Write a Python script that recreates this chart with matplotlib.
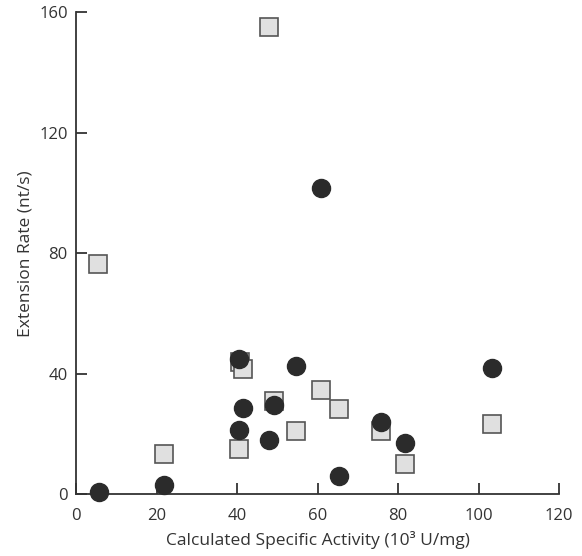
import matplotlib.pyplot as plt

# squares (light grey)
sq_x = [5.5, 21.9, 40.6, 40.7, 41.5, 48.0, 49.3, 54.6, 60.9, 65.4, 75.7, 81.8, 103.3]
sq_y = [76.4, 13.5, 15.0, 43.8, 41.5, 155.1, 31.0, 21.0, 34.6, 28.2, 21.0, 10.2, 23.4]

# circles (dark)
ci_x = [5.8, 21.9, 40.6, 41.4, 40.6, 47.9, 49.3, 54.6, 60.9, 65.4, 75.7, 81.8, 103.3]
ci_y = [0.7, 3.0, 44.9, 28.7, 21.5, 18.0, 29.8, 42.7, 101.6, 6.0, 24.1, 17.1, 42.0]

x_ticks = [0, 20, 40, 60, 80, 100, 120]
y_ticks = [0, 40, 80, 120, 160]

plt.rcParams['font.family'] = ['Open Sans', 'DejaVu Sans']

fig = plt.figure(figsize=(5.82, 5.56), dpi=100)
ax = fig.add_axes([0.1306, 0.111, 0.8299, 0.867])

ax.plot(sq_x, sq_y, 's', ms=12.5, mfc='#e0e0e0', mec='#555555', mew=1.2, clip_on=False, zorder=3)
ax.plot(ci_x, ci_y, 'o', ms=13, mfc='#2b2b2b', mec='#2b2b2b', clip_on=False, zorder=4)

ax.set_xlim(0, 120)
ax.set_ylim(0, 160)
ax.set_xticks(x_ticks)
ax.set_yticks(y_ticks)
for s in ['top', 'right']:
    ax.spines[s].set_visible(False)
for s in ['left', 'bottom']:
    ax.spines[s].set_color('#333333')
    ax.spines[s].set_linewidth(1.3)
ax.tick_params(direction='in', length=8, width=1.3, color='#333333', labelsize=12, labelcolor='#333333')
ax.tick_params(axis='x', pad=10)
ax.tick_params(axis='y', pad=6)
ax.set_xlabel('Calculated Specific Activity (10³ U/mg)', fontsize=12.5, color='#333333', labelpad=5)
ax.set_ylabel('Extension Rate (nt/s)', fontsize=12.5, color='#333333', labelpad=4)

fig.savefig('out.png', dpi=100)
